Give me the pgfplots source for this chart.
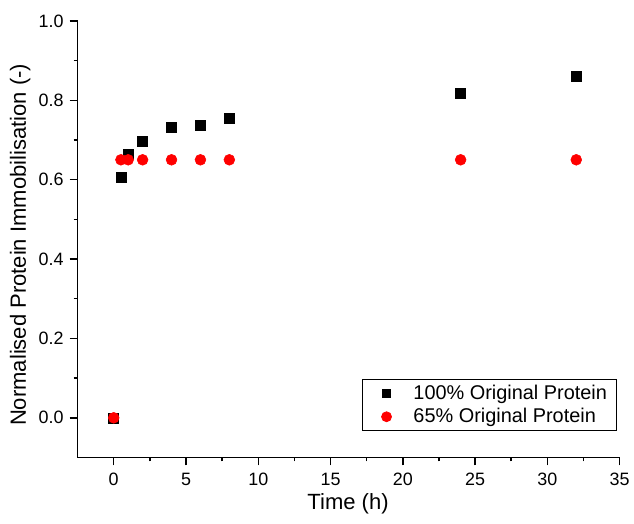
\documentclass[border=0pt]{standalone}
\usepackage{fontspec}
\setmainfont{Liberation Sans}
\usepackage{pgfplots}
\pgfplotsset{compat=1.18}

\begin{document}
\begin{tikzpicture}
\begin{axis}[
scale only axis,
width=408.75pt,
height=329.25pt,
axis lines=left,
axis line style={line width=1.2pt,-},
xmin=-2.5, xmax=35,
ymin=-0.1, ymax=1.0,
xtick={0,5,...,35},
ytick={0,0.2,...,1.0},
minor x tick num=1,
minor y tick num=1,
tick align=outside,
major tick length=6pt,
minor tick length=3pt,
every tick/.style={black, line width=1.1pt},
tick label style={font=\fontsize{13.5}{15}\selectfont},
/pgf/number format/assume math mode=true,
yticklabel style={/pgf/number format/fixed, /pgf/number format/fixed zerofill, /pgf/number format/precision=1, xshift=-1pt},
xticklabel style={yshift=-2pt},
xlabel={Time (h)},
ylabel={Normalised Protein Immobilisation (-)},
label style={font=\fontsize{16.6}{18}\selectfont},
xlabel style={at={(rel axis cs:0.499,-0.107)}, anchor=center},
ylabel style={at={(rel axis cs:-0.106,0.487)}, anchor=center},
clip=false,
legend style={at={(0.9945,0.0615)}, anchor=south east, draw=black, line width=0.6pt,
  font=\fontsize{15}{17}\selectfont, row sep=1.5pt, inner xsep=5pt, inner ysep=2pt,
  column sep=5pt},
legend cell align=left,
]
\addplot[only marks, mark=square*, mark size=3.75pt, black,
  legend image code/.code={\path (0,0) (26pt,0); \fill[black] (13pt,0) +(-3pt,-3pt) rectangle +(3pt,3pt);}]
coordinates {(0,0) (0.5,0.607) (1,0.664) (2,0.696) (4,0.732) (6,0.736) (8,0.754) (24,0.817) (32,0.861)};
\addlegendentry{100\% Original Protein}
\addplot[only marks, mark=*, mark size=4.1pt, red, mark options={fill=red, draw=red},
  legend image code/.code={\path (0,0) (26pt,0); \fill[red] (13pt,0) circle (3.75pt);}]
coordinates {(0,0) (0.5,0.65) (1,0.65) (2,0.65) (4,0.65) (6,0.65) (8,0.65) (24,0.65) (32,0.65)};
\addlegendentry{65\% Original Protein}
\path (rel axis cs:-0.1431,-0.1503) (rel axis cs:1.0202,1.0478);
\end{axis}
\end{tikzpicture}
\end{document}
